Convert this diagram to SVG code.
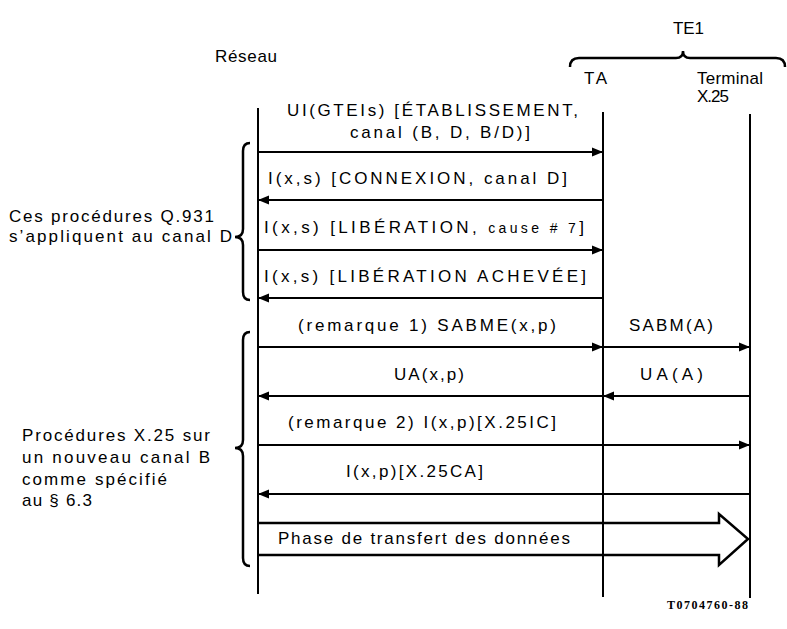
<svg xmlns="http://www.w3.org/2000/svg" width="787" height="629" viewBox="0 0 787 629">
<defs>
<marker id="ah" markerWidth="12" markerHeight="10" refX="11" refY="5" orient="auto" markerUnits="userSpaceOnUse">
<path d="M0,0.5 L11,5 L0,9.5 Z" fill="#000"/>
</marker>
</defs>
<style>
text{font-family:"Liberation Sans",Arial,sans-serif;font-size:17px;fill:#000}
.ll{stroke:#000;stroke-width:2;fill:none}
.msg{stroke:#000;stroke-width:2;fill:none;marker-end:url(#ah)}
.br{stroke:#000;stroke-width:2.5;fill:none}
.ref{font-family:"Liberation Serif",serif;font-weight:bold;font-size:12px}
</style>
<rect width="787" height="629" fill="#fff"/>
<g id="reseau">
<text x="215" y="62" textLength="62" lengthAdjust="spacing">Réseau</text>
<line class="ll" x1="258" y1="108" x2="258" y2="594"/>
</g>
<g id="te1">
<text x="673" y="34" textLength="31" lengthAdjust="spacing">TE1</text>
<path class="br" d="M570,67 Q570,58 579,58 H676 Q683,58 683,51 Q683,58 690,58 H776 Q785,58 785,67"/>
</g>
<g id="ta">
<text x="584" y="84" textLength="23" lengthAdjust="spacing">TA</text>
<line class="ll" x1="603" y1="112" x2="603" y2="597"/>
</g>
<g id="terminal">
<text x="697" y="84" textLength="66" lengthAdjust="spacing">Terminal</text>
<text x="697" y="102" textLength="32" lengthAdjust="spacing">X.25</text>
<line class="ll" x1="750" y1="114" x2="750" y2="598" stroke-width="2.5"/>
</g>
<g id="q931-note">
<text x="9" y="222" textLength="205" lengthAdjust="spacing">Ces procédures Q.931</text>
<text x="9" y="242" textLength="223" lengthAdjust="spacing">s’appliquent au canal D</text>
<path class="br" d="M250,143 Q243,143 243,151 V229 Q243,237 235,237 Q243,237 243,245 V292 Q243,300 250,300"/>
</g>
<g id="x25-note">
<text x="22" y="441" textLength="188" lengthAdjust="spacing">Procédures X.25 sur</text>
<text x="22" y="463" textLength="188" lengthAdjust="spacing">un nouveau canal B</text>
<text x="22" y="485" textLength="145" lengthAdjust="spacing">comme spécifié</text>
<text x="22" y="506" textLength="70" lengthAdjust="spacing">au § 6.3</text>
<path class="br" d="M250,332 Q243,332 243,340 V440 Q243,448 235,448 Q243,448 243,456 V558 Q243,566 250,566"/>
</g>
<g id="connectors">
<line class="msg" x1="258" y1="152" x2="603" y2="152"/>
<line class="msg" x1="603" y1="200" x2="258" y2="200"/>
<line class="msg" x1="258" y1="250" x2="603" y2="250"/>
<line class="msg" x1="603" y1="298" x2="258" y2="298"/>
<line class="msg" x1="258" y1="347" x2="603" y2="347"/>
<line class="msg" x1="603" y1="347" x2="750" y2="347"/>
<line class="msg" x1="750" y1="396" x2="603" y2="396"/>
<line class="msg" x1="603" y1="396" x2="258" y2="396"/>
<line class="msg" x1="258" y1="445" x2="750" y2="445"/>
<line class="msg" x1="750" y1="494" x2="258" y2="494"/>
<path d="M258,523 H719 V514 L748,539 L719,565 V555 H258" fill="none" stroke="#000" stroke-width="2.5" stroke-linejoin="miter"/>
</g>
<g id="labels">
<text x="287" y="116" textLength="291" lengthAdjust="spacing">UI(GTEIs) [ÉTABLISSEMENT,</text>
<text x="350" y="138" textLength="180" lengthAdjust="spacing">canal (B, D, B/D)]</text>
<text x="268" y="184" textLength="299" lengthAdjust="spacing">I(x,s) [CONNEXION, canal D]</text>
<text x="264" y="233" textLength="320" lengthAdjust="spacing">I(x,s) [LIBÉRATION, <tspan font-size="14">cause # 7</tspan>]</text>
<text x="264" y="282" textLength="322" lengthAdjust="spacing">I(x,s) [LIBÉRATION ACHEVÉE]</text>
<text x="298" y="331" textLength="258" lengthAdjust="spacing">(remarque 1) SABME(x,p)</text>
<text x="629" y="331" textLength="84" lengthAdjust="spacing">SABM(A)</text>
<text x="394" y="380" textLength="70" lengthAdjust="spacing">UA(x,p)</text>
<text x="640" y="380" textLength="63" lengthAdjust="spacing">UA(A)</text>
<text x="288" y="428" textLength="268" lengthAdjust="spacing">(remarque 2) I(x,p)[X.25IC]</text>
<text x="346" y="477" textLength="137" lengthAdjust="spacing">I(x,p)[X.25CA]</text>
<text x="278" y="544" textLength="292" lengthAdjust="spacing">Phase de transfert des données</text>
<text class="ref" x="667" y="609" textLength="81" lengthAdjust="spacing">T0704760-88</text>
</g>
</svg>
